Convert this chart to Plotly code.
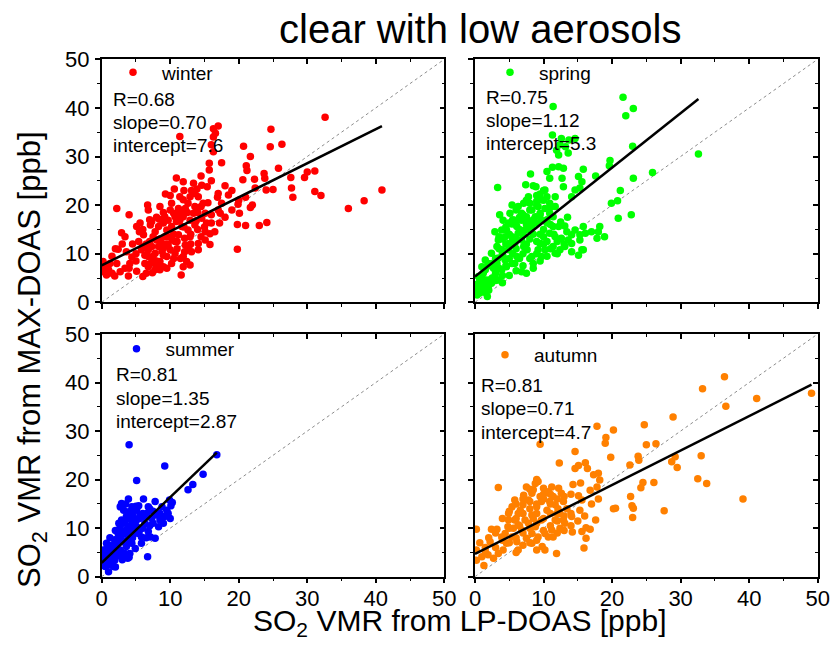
import plotly.graph_objects as go

W, H = 835, 651
FONT = "Liberation Sans, Arial, sans-serif"

seasons = ["winter", "spring", "summer", "autumn"]
colors = ["#FF0000", "#00FF00", "#0000FF", "#FF8000"]
R_vals = ["0.68", "0.75", "0.81", "0.81"]
slope_txt = ["0.70", "1.12", "1.35", "0.71"]
icpt_txt = ["7.6", "5.3", "2.87", "4.7"]
slopes = [0.70, 1.12, 1.35, 0.71]
intercepts = [7.6, 5.3, 2.87, 4.7]
fit_xmax = [40.9, 32.6, 16.8, 49.1]
tick_vals = [0, 10, 20, 30, 40, 50]
tick_text = ["0", "10", "20", "30", "40", "50"]

winter_x = [32.6, 40.9, 38.3, 36.0, 32.0, 31.1, 31.1, 30.0, 29.6, 27.9, 27.7, 27.6, 25.8, 26.3, 24.7, 24.6,
            25.0, 24.0, 23.8, 23.7, 24.1, 23.0, 21.7, 21.1, 21.2, 20.7, 20.6, 22.3, 22.4, 21.7, 21.0, 21.0,
            19.9, 20.1, 19.8, 19.8, 18.5, 17.5, 17.0, 16.3, 16.6, 16.3, 16.0, 16.3, 15.7, 15.7, 11.4, 10.9,
            11.9, 13.4, 14.6, 15.4, 17.0, 16.9, 17.5, 17.3, 17.2, 16.0, 15.8, 15.8, 15.1, 14.6, 14.5, 13.6,
            13.6, 12.9, 12.6, 12.2, 11.7, 11.4, 10.7, 10.6, 10.2, 9.3, 9.2, 8.5, 8.4, 6.7, 6.8, 8.3, 7.3,
            7.1, 5.6, 5.1, 4.0, 2.2, 2.9, 3.4, 2.4, 3.6, 5.4, 6.1, 7.8, 9.5, 9.7, 10.7, 11.2, 12.1, 12.2,
            12.1, 12.9, 12.6, 13.6, 14.1, 12.4, 12.9, 11.9, 11.6, 10.7, 10.2, 9.0, 9.0, 8.5, 7.8, 7.4, 6.8,
            6.3, 6.0, 5.1, 3.9, 4.1, 4.4, 3.4, 2.7, 1.9, 1.5, 1.0, 0.5, 0.2, 0.2, 0.7, 1.2, 2.2, 6.8, 7.3,
            7.8, 8.3, 8.8, 8.0, 7.5, 8.5, 9.5, 10.0, 9.7, 9.0, 6.8, 6.3, 5.8, 7.1, 8.0, 9.2, 10.2, 10.9,
            11.7, 9.7, 9.0, 10.5, 11.2, 11.9, 11.4, 13.1, 13.9, 14.1, 14.8, 15.1, 13.4, 12.9, 11.9, 11.2,
            15.3, 13.1, 11.9, 14.1, 15.1,
            5.0, 6.0, 7.0, 7.5, 8.5, 9.5, 10.5, 11.0, 12.0, 13.0, 14.0, 15.0, 16.0, 17.0, 15.5, 14.0, 12.5,
            10.0, 9.0, 8.0, 7.0, 6.0, 5.5, 4.5, 3.0, 2.0, 1.5, 4.0, 5.0, 6.5, 8.0, 9.5, 10.5, 11.0, 13.0,
            14.5, 16.5, 18.0, 19.0, 18.0, 16.0, 14.5, 12.0, 10.0, 19.0, 20.0, 22.0, 6.5, 7.5, 8.8, 10.3,
            11.5, 12.7, 13.8]
winter_y = [38.1, 23.1, 20.9, 19.3, 22.0, 22.8, 27.0, 26.8, 25.7, 21.6, 23.5, 25.7, 27.6, 32.5, 35.6, 32.0,
            23.2, 23.1, 25.5, 26.5, 16.4, 15.8, 30.0, 28.1, 27.1, 32.1, 25.2, 25.3, 23.5, 19.5, 21.6, 15.8,
            20.2, 18.3, 16.0, 10.9, 22.1, 28.7, 36.3, 35.7, 34.8, 34.0, 32.4, 31.0, 28.6, 27.2, 34.1, 25.6,
            24.8, 24.5, 24.1, 23.8, 22.4, 21.6, 20.4, 18.3, 16.3, 16.3, 14.1, 11.9, 14.5, 17.3, 19.7, 19.7,
            22.4, 21.7, 20.4, 19.3, 18.3, 16.9, 17.6, 23.3, 20.4, 22.3, 17.6, 19.7, 17.1, 20.0, 19.0, 15.6,
            16.6, 15.9, 16.3, 15.6, 18.0, 19.3, 14.3, 13.5, 10.9, 10.4, 12.5, 13.9, 14.5, 14.9, 13.5, 12.5,
            13.9, 13.2, 11.8, 10.4, 13.5, 14.9, 15.9, 10.8, 8.4, 7.7, 7.3, 5.6, 10.1, 8.0, 9.7, 7.3, 6.7,
            6.7, 6.1, 7.3, 8.0, 5.3, 6.4, 5.4, 8.0, 9.3, 7.0, 6.3, 5.4, 6.0, 6.7, 7.3, 8.4, 6.3, 5.6, 8.0,
            8.0, 10.8, 11.5, 10.1, 11.5, 12.1, 12.8, 8.7, 8.4, 9.4, 10.8, 11.8, 11.1, 9.4, 9.7, 10.8, 8.0,
            7.7, 13.5, 15.6, 16.6, 15.6, 16.9, 16.3, 18.3, 19.3, 21.1, 21.7, 23.0, 23.3, 21.7, 20.4, 18.3,
            18.3, 16.9, 17.6, 18.0, 16.3, 10.4, 9.4, 12.1, 12.8,
            10.0, 11.5, 12.5, 13.5, 13.0, 12.0, 14.0, 11.0, 15.5, 14.0, 15.0, 15.5, 18.0, 19.0, 20.5, 18.5,
            18.5, 19.0, 18.5, 17.5, 17.0, 15.0, 14.5, 12.0, 12.0, 11.0, 9.5, 7.0, 8.5, 6.0, 8.5, 7.0, 9.0,
            12.5, 12.0, 13.5, 14.5, 17.5, 19.0, 24.0, 25.0, 26.0, 23.0, 22.0, 23.0, 21.0, 20.0, 12.0, 9.5,
            10.5, 12.8, 9.0, 11.2, 16.8]

spring_x = [21.6, 23.1, 22.0, 11.4, 23.0, 32.6, 25.9, 23.1, 21.2, 20.8, 19.9, 22.8, 20.9, 19.7, 19.6, 17.6,
            15.8, 14.6, 13.7, 13.2, 11.9, 12.2, 13.6, 11.3, 12.6, 12.4, 15.1, 15.6, 15.3, 14.6, 14.1, 12.9,
            12.2, 11.3, 10.5, 10.9, 12.7, 12.9, 11.7, 10.2, 9.7, 8.9, 8.1, 7.4, 3.3, 7.8, 7.1, 6.3, 5.4,
            5.1, 3.6, 4.1, 4.9, 5.8, 6.8, 8.3, 9.2, 10.2, 10.9, 11.4, 12.2, 13.1, 13.4, 14.1, 14.6, 15.3,
            15.8, 16.1, 17.0, 18.2, 18.0, 17.8, 18.9, 15.3, 14.1, 13.6, 15.1, 15.8, 15.6, 12.4, 11.4, 10.5,
            10.0, 9.5, 9.2, 8.5, 8.3, 7.6, 7.1, 6.8, 6.3, 7.3, 8.3, 9.0, 9.7, 10.5, 5.8, 5.4, 4.4, 3.4,
            2.9, 3.2, 3.9, 4.9, 6.1, 6.8, 5.8, 4.4, 3.4, 2.4, 1.9, 1.5, 1.0, 0.5, 0.2, 0.7, 1.5, 2.2, 1.9,
            2.9, 3.9, 4.6, 5.4, 2.7, 3.2, 4.1, 4.9, 6.1, 4.6, 3.9, 6.8, 7.5, 8.0, 9.0, 9.5, 10.5, 10.9,
            11.7, 9.5, 8.8, 7.8, 11.4, 10.9, 11.7, 12.6, 10.2, 9.7, 11.7, 14.1, 13.1, 5.4, 1.5, 1.0, 0.5,
            0.0, 1.2, 2.4, 3.4, 1.7,
            1.0, 1.5, 2.0, 2.5, 3.0, 1.2, 2.0, 3.5, 4.0, 4.5, 5.0, 5.5, 6.0, 6.5, 7.0, 7.5, 8.0, 8.5, 9.0,
            9.5, 10.0, 10.5, 11.0, 8.0, 7.0, 6.0, 5.0, 4.0, 3.0, 2.5, 3.5, 4.5, 5.5, 6.5, 7.5, 8.5, 9.5,
            6.0, 5.0, 4.0, 7.0, 8.0, 9.0, 10.0, 6.5, 11.5, 12.0, 13.0, 10.0, 9.0, 8.0, 7.0, 6.0, 5.0, 4.0,
            3.0, 2.0, 1.0, 0.5, 0.3, 1.8, 12.5, 13.5, 11.0, 10.0, 9.0, 8.5, 7.5, 6.0, 5.5, 4.5, 3.5, 11.0,
            12.0, 10.5, 9.5, 8.5, 7.5]
spring_y = [42.2, 39.9, 38.4, 40.3, 32.1, 30.5, 26.7, 25.5, 23.0, 20.9, 20.4, 18.0, 17.3, 29.2, 28.1, 26.0,
            27.4, 33.7, 33.4, 32.0, 31.3, 30.3, 30.7, 34.4, 33.7, 32.4, 25.9, 24.8, 23.5, 23.1, 21.7, 27.6,
            27.9, 27.8, 26.9, 25.5, 25.5, 23.8, 21.7, 23.1, 21.1, 23.8, 26.4, 24.2, 23.6, 21.7, 20.4, 19.7,
            20.0, 18.3, 18.0, 16.9, 16.3, 16.9, 18.3, 19.0, 19.7, 19.3, 18.3, 17.6, 15.6, 15.7, 14.5, 13.9,
            14.9, 13.9, 15.6, 14.2, 14.5, 15.6, 14.5, 13.2, 13.5, 12.8, 12.1, 12.8, 9.7, 10.8, 10.8, 10.8,
            11.5, 12.5, 13.5, 12.1, 10.8, 8.0, 9.4, 10.8, 11.5, 12.8, 14.2, 14.9, 15.6, 16.3, 16.9, 16.3,
            12.1, 13.5, 13.5, 12.8, 14.5, 11.5, 10.8, 10.8, 9.4, 6.3, 8.0, 8.7, 9.1, 10.1, 8.0, 6.7, 5.3,
            3.9, 2.2, 1.9, 3.9, 4.6, 2.9, 5.3, 6.7, 7.3, 8.0, 7.0, 8.0, 9.4, 12.1, 15.6, 14.9, 14.9, 16.9,
            17.6, 20.4, 20.8, 22.3, 21.7, 20.4, 19.7, 18.3, 17.6, 16.6, 15.6, 14.2, 13.5, 13.2, 10.8, 9.4,
            10.1, 10.4, 11.5, 16.1, 8.7, 7.3, 5.3, 3.6, 2.5, 3.9, 4.6, 4.6,
            3.0, 2.0, 3.5, 5.0, 6.0, 6.0, 7.5, 7.0, 5.5, 7.5, 9.0, 10.0, 11.0, 9.0, 10.0, 12.0, 13.0, 14.0,
            12.5, 14.0, 15.0, 17.0, 16.0, 15.0, 14.0, 13.0, 11.5, 10.0, 9.0, 8.0, 11.0, 12.0, 13.0, 15.0,
            16.0, 17.0, 18.0, 16.0, 14.0, 13.0, 18.0, 19.0, 20.0, 21.0, 17.5, 14.0, 12.5, 12.0, 12.0, 10.0,
            9.0, 7.5, 6.5, 5.5, 4.0, 4.5, 2.5, 4.5, 3.0, 1.5, 1.2, 16.5, 17.5, 19.5, 23.0, 22.0, 24.0, 21.0,
            19.0, 17.0, 15.5, 13.5, 11.0, 10.0, 9.5, 8.5, 7.0, 6.0]

summer_x = [16.8, 4.0, 9.2, 5.1, 14.8, 13.3, 12.6, 10.3, 9.9, 10.1, 9.7, 9.2, 8.5, 7.8, 6.1, 5.4, 5.6, 6.8,
            7.3, 6.8, 7.8, 7.1, 6.7, 3.8, 2.7, 3.2, 3.9, 4.4, 3.6, 2.9, 3.4, 2.7, 3.9, 4.4, 4.9, 5.1, 4.6,
            5.4, 5.8, 3.9, 3.2, 2.4, 1.9, 2.9, 3.6, 2.7, 1.9, 1.5, 1.0, 0.5, 0.7, 0.2, 0.5, 1.0, 0.2, 1.2,
            1.7, 2.2, 4.4, 4.9, 4.1, 1.9, 2.7, 3.4, 1.7, 0.7, 6.3, 6.1, 6.6, 8.0, 8.8, 9.5, 8.3, 5.8, 3.9,
            2.9, 4.4, 4.6, 5.1,
            0.5, 1.0, 1.5, 2.0, 2.5, 3.0, 1.0, 1.5, 2.0, 2.5, 3.0, 3.5, 4.0, 4.5, 5.0, 5.5, 6.0, 6.5, 7.0,
            7.5, 3.0, 3.5, 4.0, 4.5, 5.0, 5.5, 6.0, 4.0, 4.5, 5.0, 3.5, 2.5, 2.0, 1.2, 0.8, 0.3, 2.0, 3.0,
            4.0, 6.5, 7.0, 7.5, 8.5, 9.0, 10.0]
summer_y = [25.1, 27.2, 22.8, 19.8, 21.1, 19.0, 17.9, 15.3, 15.8, 14.6, 13.0, 12.4, 11.7, 15.5, 16.0, 14.6,
            12.7, 14.4, 12.0, 9.3, 7.9, 8.2, 4.1, 3.8, 14.4, 13.7, 13.4, 13.0, 12.4, 11.7, 11.0, 10.3, 10.3,
            11.3, 11.7, 10.3, 8.9, 8.9, 8.2, 8.2, 8.9, 8.9, 7.6, 7.2, 6.2, 5.5, 5.2, 4.1, 3.4, 4.5, 6.9,
            5.5, 2.1, 1.0, 3.1, 5.5, 6.2, 6.5, 6.9, 5.8, 4.8, 3.4, 4.5, 4.8, 2.1, 2.4, 11.0, 12.4, 13.0,
            12.7, 14.4, 13.7, 10.3, 6.9, 16.0, 15.1, 14.4, 12.4, 13.7,
            3.0, 2.5, 3.0, 4.0, 4.5, 5.0, 5.0, 6.5, 7.0, 8.0, 9.0, 9.5, 9.5, 10.0, 11.5, 12.0, 13.0, 12.5,
            14.0, 13.5, 7.5, 7.0, 7.5, 8.0, 9.0, 9.5, 10.0, 12.0, 13.5, 14.5, 15.0, 11.0, 9.5, 8.0, 6.0,
            4.0, 2.0, 3.5, 4.0, 8.0, 10.5, 11.0, 13.0, 11.0, 12.0]

autumn_x = [36.4, 33.2, 49.1, 41.1, 36.6, 28.9, 24.7, 20.2, 17.8, 19.1, 19.0, 9.5, 14.6, 25.0, 26.4, 19.8,
            23.8, 22.6, 23.9, 29.2, 28.7, 29.5, 33.0, 32.5, 33.8, 39.1, 27.6, 26.1, 24.5, 24.2, 22.7, 22.9,
            23.1, 23.0, 20.2, 20.5, 17.6, 15.9, 16.8, 16.2, 15.6, 16.2, 14.2, 15.3, 15.1, 15.6, 15.4, 14.3,
            14.6, 15.1, 16.1, 16.4, 17.3, 18.0, 18.2, 17.8, 16.8, 12.3, 12.2, 12.6, 12.9, 14.1, 13.1, 12.4,
            11.7, 11.2, 10.7, 10.2, 11.9, 9.8, 9.0, 8.3, 7.5, 6.3, 6.1, 5.4, 4.6, 4.1, 3.4, 3.4, 2.4, 3.2,
            2.2, 0.7, 0.2, 0.2, 0.2, 1.3, 1.9, 2.7, 3.9, 4.9, 4.9, 5.4, 5.8, 6.3, 7.0, 7.8, 7.5, 8.5, 8.8,
            9.2, 10.0, 9.5, 9.0, 8.3, 7.8, 6.8, 8.8, 9.7, 10.5, 10.9, 11.4, 10.7, 11.2, 11.7, 12.4, 12.9,
            10.2, 9.2, 8.3, 7.3, 6.3, 5.6, 4.4, 6.6, 8.0, 9.7, 8.3, 7.1, 5.8, 4.8, 11.4, 13.4, 12.1, 1.5,
            1.0,
            3.0, 4.0, 5.0, 6.0, 7.0, 8.0, 9.0, 10.0, 11.0, 12.0, 13.0, 14.0, 5.0, 6.0, 7.0, 8.0, 9.0, 10.0,
            11.0, 12.0, 13.0, 14.0, 6.0, 7.0, 8.0, 9.0, 10.0, 11.0, 12.0, 13.0, 14.0, 15.0, 16.0, 17.0,
            18.0, 4.0, 5.0, 6.0, 7.0, 8.0, 9.0, 10.0, 3.0, 2.0, 1.5, 9.0, 11.0, 12.0, 8.5, 6.5]
autumn_y = [41.2, 38.7, 37.8, 36.7, 35.1, 32.9, 31.3, 30.2, 31.0, 28.7, 27.5, 27.3, 25.8, 27.2, 27.4, 24.6,
            24.8, 23.0, 24.0, 24.7, 23.7, 22.5, 24.9, 20.2, 19.2, 16.0, 13.6, 19.4, 19.4, 18.3, 16.5, 14.6,
            14.1, 12.2, 14.0, 14.1, 11.7, 5.9, 9.8, 10.1, 9.3, 7.9, 9.2, 13.7, 16.7, 15.8, 19.3, 19.0, 22.3,
            22.9, 23.5, 22.3, 21.0, 21.3, 19.9, 18.5, 17.8, 23.4, 18.2, 17.2, 15.5, 12.4, 11.0, 10.0, 11.7,
            9.6, 8.2, 5.5, 4.8, 6.2, 5.5, 6.9, 7.9, 5.5, 7.2, 8.2, 6.9, 5.5, 4.8, 18.4, 9.8, 9.8, 7.2, 7.0,
            9.8, 5.5, 3.4, 2.3, 4.5, 3.8, 8.2, 11.7, 13.0, 14.4, 11.7, 13.0, 14.8, 15.8, 18.5, 17.9, 19.2,
            19.6, 18.2, 16.5, 14.4, 12.7, 11.0, 9.6, 10.3, 11.7, 13.7, 15.5, 16.5, 17.5, 18.5, 14.8, 13.0,
            11.7, 8.9, 8.2, 8.9, 11.7, 10.7, 10.0, 8.9, 13.7, 15.5, 15.5, 17.2, 16.8, 15.8, 10.3, 8.2, 14.0,
            14.0, 5.2, 4.1,
            6.0, 7.5, 7.0, 8.0, 9.0, 10.0, 11.0, 12.0, 13.0, 13.0, 12.5, 13.0, 10.0, 12.0, 13.0, 14.0, 15.0,
            16.0, 17.0, 16.0, 16.5, 17.0, 5.0, 6.5, 7.0, 7.5, 9.5, 10.5, 9.0, 9.5, 10.5, 11.5, 12.5, 15.0,
            16.0, 12.0, 13.5, 15.0, 16.0, 18.0, 20.0, 17.0, 9.0, 8.0, 6.0, 13.0, 15.0, 11.5, 12.0, 10.5]

data_x = [winter_x, spring_x, summer_x, autumn_x]
data_y = [winter_y, spring_y, summer_y, autumn_y]

# panel geometry in pixels (left, right, top, bottom)
col_px = [(101.7, 444.3), (475.0, 817.7)]
row_px = [(59.3, 302.3), (334.0, 576.7)]


def fx(x):
    return x / W


def fy(y):
    return 1 - y / H


fig = go.Figure()

for i, s in enumerate(seasons):
    n = i + 1
    r, c = divmod(i, 2)
    xa = "x" if n == 1 else f"x{n}"
    ya = "y" if n == 1 else f"y{n}"
    leg = "legend" if n == 1 else f"legend{n}"
    # 1:1 reference line
    fig.add_trace(go.Scatter(x=[0, 50], y=[0, 50], mode="lines", xaxis=xa, yaxis=ya,
                             line=dict(color="#8c8c8c", width=1, dash="3px,3px"),
                             showlegend=False, hoverinfo="skip"))
    fig.add_trace(go.Scatter(x=data_x[i], y=data_y[i], mode="markers", name=s, xaxis=xa, yaxis=ya,
                             marker=dict(color=colors[i], size=7.5, line=dict(width=0)),
                             legend=leg, showlegend=True))
    xe = fit_xmax[i]
    fig.add_trace(go.Scatter(x=[0, xe], y=[intercepts[i], slopes[i] * xe + intercepts[i]],
                             mode="lines", xaxis=xa, yaxis=ya, line=dict(color="black", width=2.5),
                             showlegend=False, hoverinfo="skip"))
    # mirror axes (inside ticks on top / right)
    fig.add_trace(go.Scatter(x=[None], y=[None], xaxis=f"x{n+4}", yaxis=ya,
                             showlegend=False, hoverinfo="skip"))
    fig.add_trace(go.Scatter(x=[None], y=[None], xaxis=xa, yaxis=f"y{n+4}",
                             showlegend=False, hoverinfo="skip"))

    xd = [fx(col_px[c][0]), fx(col_px[c][1])]
    yd = [fy(row_px[r][1]), fy(row_px[r][0])]
    common = dict(range=[0, 50], showgrid=False, zeroline=False, showline=True,
                  linecolor="black", linewidth=1.5, tickmode="array", tickvals=tick_vals,
                  ticktext=tick_text, tickcolor="black", tickwidth=1.5, ticklen=5,
                  tickfont=dict(family=FONT, size=22, color="black"),
                  minor=dict(dtick=5, ticklen=3, tickwidth=1.2, tickcolor="black"),
                  automargin=False, fixedrange=True)
    fig.layout[f"xaxis{n if n > 1 else ''}"] = dict(
        common, domain=xd, anchor=ya, ticks="outside", showticklabels=(r == 1),
        ticklabelstandoff=-4, minor_ticks="outside")
    fig.layout[f"yaxis{n if n > 1 else ''}"] = dict(
        common, domain=yd, anchor=xa, ticks="outside", showticklabels=(c == 0),
        ticklabelstandoff=1, minor_ticks="outside")
    fig.layout[f"xaxis{n+4}"] = dict(
        common, overlaying=xa, side="top", anchor=ya, ticks="inside", showticklabels=False,
        minor_ticks="inside")
    fig.layout[f"yaxis{n+4}"] = dict(
        common, overlaying=ya, side="right", anchor=xa, ticks="inside", showticklabels=False,
        minor_ticks="inside")

# legends (one per panel)
leg_px = [(104.0, 53.5), (481.0, 53.5), (107.5, 330.0), (476.0, 336.0)]
for i in range(4):
    key = "legend" if i == 0 else f"legend{i+1}"
    fig.layout[key] = dict(x=fx(leg_px[i][0]), y=fy(leg_px[i][1]), xanchor="left", yanchor="top",
                           bgcolor="rgba(0,0,0,0)", borderwidth=0, itemwidth=48,
                           font=dict(family=FONT, size=19, color="black"))

# statistics text
stat_px = [(111.0, 99.0), (484.0, 97.0), (114.0, 375.0), (479.0, 385.5)]
line_gap = 23.3
ann = []
for i in range(4):
    x0, y0 = stat_px[i]
    lines = [f"R={R_vals[i]}", f"slope={slope_txt[i]}", f"intercept={icpt_txt[i]}"]
    for k, t in enumerate(lines):
        ann.append(dict(text=t, x=fx(x0), y=fy(y0 + k * line_gap), xref="paper", yref="paper",
                        xanchor="left", yanchor="middle", showarrow=False,
                        font=dict(family=FONT, size=19, color="black")))

ann.append(dict(text="clear with low aerosols", x=fx(480), y=fy(29), xref="paper", yref="paper",
                xanchor="center", yanchor="middle", showarrow=False,
                font=dict(family=FONT, size=40, color="black")))
ann.append(dict(text="SO<sub>2</sub> VMR from LP-DOAS [ppb]", x=fx(459), y=fy(622),
                xref="paper", yref="paper", xanchor="center", yanchor="middle", showarrow=False,
                font=dict(family=FONT, size=30, color="black")))
ann.append(dict(text="SO<sub>2</sub> VMR from MAX-DOAS [ppb]", x=fx(32), y=fy(360),
                xref="paper", yref="paper", xanchor="center", yanchor="middle", showarrow=False,
                textangle=-90, font=dict(family=FONT, size=31, color="black")))

fig.update_layout(width=W, height=H, margin=dict(l=0, r=0, t=0, b=0, pad=0),
                  paper_bgcolor="white", plot_bgcolor="white", annotations=ann,
                  font=dict(family=FONT, color="black"))

fig.write_html("out.html")
